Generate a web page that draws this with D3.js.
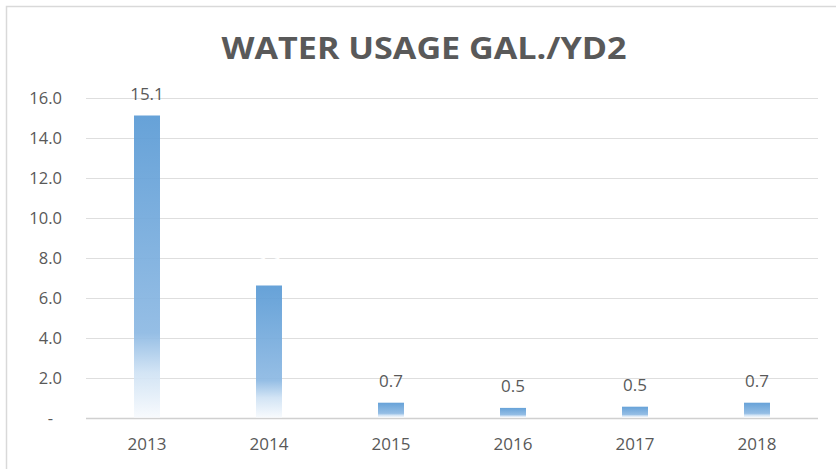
<!DOCTYPE html>
<html>
<head>
<meta charset="utf-8">
<script src="https://cdn.jsdelivr.net/npm/d3@7"></script>
<style>
  html, body { margin: 0; padding: 0; background: #fff; }
  svg { display: block; }
</style>
</head>
<body>
<svg id="chart" width="836" height="469"></svg>
<script>
const title = "WATER USAGE GAL./YD2";
const years = ["2013", "2014", "2015", "2016", "2017", "2018"];
const usage = [15.1, 6.6, 0.74, 0.48, 0.54, 0.74];
const labels = ["15.1", "6.6", "0.7", "0.5", "0.5", "0.7"];
const labelColors = ["#595959", "#ffffff", "#595959", "#595959", "#595959", "#595959"];
const yTicks = [0, 2, 4, 6, 8, 10, 12, 14, 16];

(function () {
const svg = d3.select("#chart");
const W = 836, H = 469;
const plotLeft = 86, plotRight = 818, plotTop = 97.5, plotBottom = 417.5;
const textColor = "#595959";
const font = "'Open Sans', sans-serif";

// frame
svg.append("rect")
  .attr("x", 6.5).attr("y", 6.5)
  .attr("width", W).attr("height", H)
  .attr("fill", "#fff").attr("stroke", "#d9d9d9").attr("stroke-width", 1.5);

const x = d3.scaleBand().domain(years).range([plotLeft, plotRight])
  .paddingInner(0.787).paddingOuter(0.3935);
const y = d3.scaleLinear().domain([0, 16]).range([plotBottom, plotTop]);

// gradient
const defs = svg.append("defs");
const grad = defs.append("linearGradient").attr("id", "barGrad")
  .attr("x1", 0).attr("y1", 0).attr("x2", 0).attr("y2", 1);
[[0, "#5b9bd5"], [0.72, "#8db9e3"], [0.85, "#cfe2f4"], [1, "#f7fafd"]]
  .forEach(([o, c]) => grad.append("stop").attr("offset", o).attr("stop-color", c));

// gridlines
svg.append("g").selectAll("line").data(yTicks).join("line")
  .attr("x1", plotLeft).attr("x2", plotRight)
  .attr("y1", d => Math.round(y(d)) + 0.5).attr("y2", d => Math.round(y(d)) + 0.5)
  .attr("stroke", d => d === 0 ? "#d0d0d0" : "#dedede")
  .attr("stroke-width", d => d === 0 ? 1.5 : 1.2);

// y axis labels
const yAxis = d3.axisLeft(y).tickValues(yTicks)
  .tickFormat(d => d === 0 ? "-" : d3.format(".1f")(d))
  .tickSize(0).tickPadding(0);
const gy = svg.append("g").attr("transform", `translate(62,0)`).call(yAxis);
gy.select(".domain").remove();
gy.selectAll("text")
  .attr("fill", textColor).attr("font-family", font).attr("font-size", 16.5)
  .attr("dy", "0.36em")
  .attr("dx", d => d === 0 ? -9 : 0);

// bars
svg.append("g").selectAll("rect").data(usage).join("rect")
  .attr("x", (d, i) => x(years[i]))
  .attr("y", d => y(d))
  .attr("width", x.bandwidth())
  .attr("height", d => y(0) - y(d))
  .attr("fill", "url(#barGrad)")
  .attr("fill-opacity", 0.93);

// data labels
svg.append("g").selectAll("text").data(usage).join("text")
  .attr("x", (d, i) => x(years[i]) + x.bandwidth() / 2)
  .attr("y", d => y(d) - 16)
  .attr("text-anchor", "middle")
  .attr("fill", (d, i) => labelColors[i])
  .attr("font-family", font).attr("font-size", 17)
  .text((d, i) => labels[i]);

// x axis labels
const xAxis = d3.axisBottom(x).tickSize(0).tickPadding(0);
const gx = svg.append("g").attr("transform", `translate(0,450)`).call(xAxis);
gx.select(".domain").remove();
gx.selectAll("text")
  .attr("fill", textColor).attr("font-family", font).attr("font-size", 17)
  .attr("dy", 0);

// title
svg.append("text")
  .attr("x", 424).attr("y", 58.5)
  .attr("text-anchor", "middle")
  .attr("fill", textColor)
  .attr("font-family", font).attr("font-weight", "bold").attr("font-size", 30)
  .attr("textLength", 405).attr("lengthAdjust", "spacingAndGlyphs")
  .text(title);
})();
</script>
</body>
</html>
